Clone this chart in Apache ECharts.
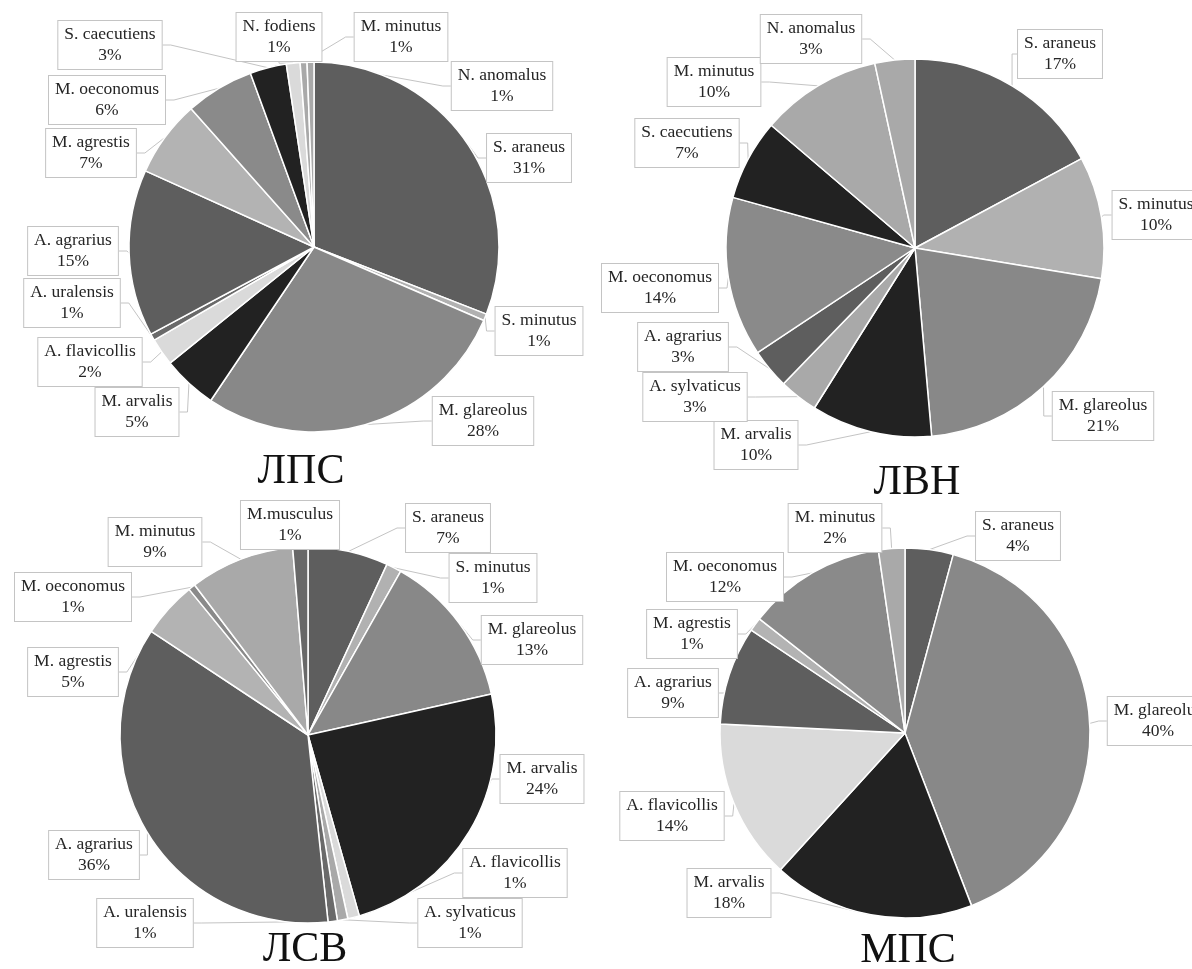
<!DOCTYPE html>
<html>
<head>
<meta charset="utf-8">
<script src="https://cdn.jsdelivr.net/npm/echarts@6/dist/echarts.min.js"></script>
<style>
  html, body { margin: 0; padding: 0; background: #ffffff; }
  #chart { width: 1192px; height: 969px; }
</style>
</head>
<body>
<div id="chart"></div>
<script>
// ---------- DATA ----------
const titles = ['ЛПС', 'ЛВН', 'ЛСВ', 'МПС'];

const catLPS = ['S. araneus', 'S. minutus', 'M. glareolus', 'M. arvalis', 'A. flavicollis', 'A. uralensis',
  'A. agrarius', 'M. agrestis', 'M. oeconomus', 'S. caecutiens', 'N. fodiens', 'M. minutus', 'N. anomalus'];
const valLPS = [31.0, 0.6, 28.0, 4.8, 2.4, 0.6, 14.6, 6.7, 6.0, 3.2, 1.2, 0.6, 0.6];

const catLVN = ['S. araneus', 'S. minutus', 'M. glareolus', 'M. arvalis', 'A. sylvaticus', 'A. agrarius',
  'M. oeconomus', 'S. caecutiens', 'M. minutus', 'N. anomalus'];
const valLVN = [17.1, 10.4, 20.9, 10.3, 3.3, 3.4, 13.6, 6.9, 10.3, 3.4];

const catLSV = ['S. araneus', 'S. minutus', 'M. glareolus', 'M. arvalis', 'A. flavicollis', 'A. sylvaticus',
  'A. uralensis', 'A. agrarius', 'M. agrestis', 'M. oeconomus', 'M. minutus', 'M.musculus'];
const valLSV = [6.9, 1.3, 13.3, 24.1, 1.0, 0.9, 0.8, 36.0, 4.8, 0.6, 9.0, 1.3];

const catMPS = ['S. araneus', 'M. glareolus', 'M. arvalis', 'A. flavicollis', 'A. agrarius', 'M. agrestis',
  'M. oeconomus', 'M. minutus'];
const valMPS = [4.2, 39.9, 17.6, 14.0, 8.6, 1.2, 12.1, 2.3];

// ---------- STYLE / LAYOUT ----------
const speciesColor = {
  'S. araneus': '#5e5e5e', 'S. minutus': '#b1b1b1', 'M. glareolus': '#888888', 'M. arvalis': '#222222',
  'A. flavicollis': '#dadada', 'A. sylvaticus': '#a9a9a9', 'A. uralensis': '#6a6a6a', 'A. agrarius': '#5e5e5e',
  'M. agrestis': '#b3b3b3', 'M. oeconomus': '#8a8a8a', 'S. caecutiens': '#222222', 'N. fodiens': '#dadada',
  'M. minutus': '#a9a9a9', 'N. anomalus': '#a9a9a9', 'M.musculus': '#686868'
};

const pies = [
  { cats: catLPS, vals: valLPS, center: [314, 247], r: 185, title: [301, 472] },
  { cats: catLVN, vals: valLVN, center: [915, 248], r: 189, title: [917, 483] },
  { cats: catLSV, vals: valLSV, center: [308, 735], r: 188, title: [305, 950] },
  { cats: catMPS, vals: valMPS, center: [905, 733], r: 185, title: [908, 951] }
];

// label box centres (text layout only)
const labelPos = [
  { 'S. araneus': [529, 158], 'S. minutus': [539, 331], 'M. glareolus': [483, 421], 'M. arvalis': [137, 412],
    'A. flavicollis': [90, 362], 'A. uralensis': [72, 303], 'A. agrarius': [73, 251], 'M. agrestis': [91, 153],
    'M. oeconomus': [107, 100], 'S. caecutiens': [110, 45], 'N. fodiens': [279, 37], 'M. minutus': [401, 37],
    'N. anomalus': [502, 86] },
  { 'S. araneus': [1060, 54], 'S. minutus': [1156, 215], 'M. glareolus': [1103, 416], 'M. arvalis': [756, 445],
    'A. sylvaticus': [695, 397], 'A. agrarius': [683, 347], 'M. oeconomus': [660, 288], 'S. caecutiens': [687, 143],
    'M. minutus': [714, 82], 'N. anomalus': [811, 39] },
  { 'S. araneus': [448, 528], 'S. minutus': [493, 578], 'M. glareolus': [532, 640], 'M. arvalis': [542, 779],
    'A. flavicollis': [515, 873], 'A. sylvaticus': [470, 923], 'A. uralensis': [145, 923], 'A. agrarius': [94, 855],
    'M. agrestis': [73, 672], 'M. oeconomus': [73, 597], 'M. minutus': [155, 542], 'M.musculus': [290, 525] },
  { 'S. araneus': [1018, 536], 'M. glareolus': [1158, 721], 'M. arvalis': [729, 893], 'A. flavicollis': [672, 816],
    'A. agrarius': [673, 693], 'M. agrestis': [692, 634], 'M. oeconomus': [725, 577], 'M. minutus': [835, 528] }
];

const FONT = '"Liberation Serif", "Times New Roman", serif';

const series = pies.map((p, si) => ({
  type: 'pie',
  center: p.center,
  radius: p.r,
  startAngle: 90,
  clockwise: true,
  avoidLabelOverlap: false,
  animation: false,
  silent: true,
  itemStyle: { borderColor: '#ffffff', borderWidth: 1.5 },
  data: p.cats.map((c, i) => ({ name: c, value: p.vals[i], itemStyle: { color: speciesColor[c] } })),
  label: {
    show: true,
    position: 'outside',
    formatter: (prm) => prm.name + '\n' + Math.round(prm.value) + '%',
    fontFamily: FONT,
    fontSize: 17.5,
    lineHeight: 21,
    color: '#262626',
    backgroundColor: '#ffffff',
    borderColor: '#c4c4c4',
    borderWidth: 1,
    padding: [3, 6],
    align: 'center'
  },
  labelLine: {
    show: true,
    length: 8,
    length2: 8,
    lineStyle: { color: '#c4c4c4', width: 1 }
  },
  labelLayout: (prm) => {
    const name = p.cats[prm.dataIndex];
    const pos = labelPos[si][name];
    return { x: pos[0], y: pos[1], align: 'center', verticalAlign: 'middle' };
  }
}));

const chart = echarts.init(document.getElementById('chart'), null, { renderer: 'canvas' });
chart.setOption({
  backgroundColor: '#ffffff',
  animation: false,
  title: pies.map((p, i) => ({
    text: titles[i],
    left: p.title[0],
    top: p.title[1],
    textAlign: 'center',
    textVerticalAlign: 'middle',
    padding: 0,
    textStyle: { fontFamily: FONT, fontSize: 42, fontWeight: 'normal', color: '#111111' }
  })),
  series: series
});
</script>
</body>
</html>
